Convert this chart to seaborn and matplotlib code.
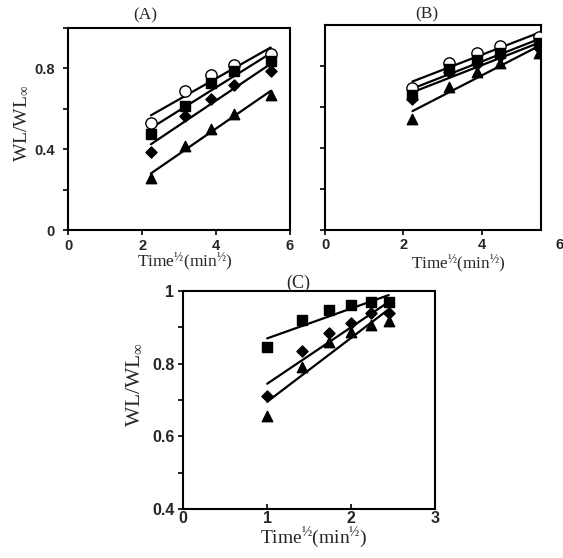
import numpy as np
import pandas as pd
import matplotlib
matplotlib.use("Agg")
import matplotlib.pyplot as plt
import seaborn as sns
from matplotlib.ticker import MultipleLocator

# ---------------- data ----------------
# x = Time^1/2 (min^1/2)
x_ab = [2.236, 3.162, 3.873, 4.472, 5.477]
x_c = [1.0, 1.414, 1.732, 2.0, 2.236, 2.449]

a_circle = [0.53, 0.69, 0.77, 0.815, 0.87]
a_square = [0.475, 0.615, 0.73, 0.79, 0.835]
a_diamond = [0.39, 0.565, 0.65, 0.72, 0.79]
a_triangle = [0.26, 0.415, 0.50, 0.575, 0.67]

b_circle = [0.695, 0.816, 0.865, 0.898, 0.94]
b_square = [0.66, 0.785, 0.83, 0.865, 0.91]
b_diamond = [0.64, 0.77, 0.81, 0.85, 0.89]
b_triangle = [0.54, 0.70, 0.77, 0.815, 0.865]

c_square = [0.846, 0.92, 0.946, 0.961, 0.968, 0.97]
c_diamond = [0.71, 0.834, 0.885, 0.91, 0.938, 0.94]
c_triangle = [0.657, 0.79, 0.86, 0.887, 0.906, 0.918]

panel_titles = ["(A)", "(B)", "(C)"]
ab_xticks = ["0", "2", "4", "6"]
a_yticks = ["0", "0.4", "0.8"]
c_xticks = ["0", "1", "2", "3"]
c_yticks = ["0.4", "0.6", "0.8", "1"]
x_label = r"Time$^{\mathregular{½}}$(min$^{\mathregular{½}}$)"
y_label = r"WL/WL$_{\mathregular{\infty}}$"

# ---------------- style ----------------
sns.set_style("ticks")
plt.rcParams["mathtext.fontset"] = "custom"
plt.rcParams["mathtext.rm"] = "Liberation Serif"
plt.rcParams["mathtext.it"] = "Liberation Serif:italic"
plt.rcParams["mathtext.bf"] = "Liberation Serif:bold"
plt.rcParams["font.family"] = ["Liberation Serif", "DejaVu Serif"]

marker_style = {
    "circle": dict(marker="o", facecolor="white", s=66),
    "square": dict(marker="s", facecolor="black", s=48),
    "diamond": dict(marker="D", facecolor="black", s=32),
    "triangle": dict(marker="^", facecolor="black", s=56),
}

def make_df(x, series):
    rows = []
    for name, ys in series.items():
        for xi, yi in zip(x, ys):
            rows.append((xi, yi, name))
    return pd.DataFrame(rows, columns=["x", "y", "series"])

df_a = make_df(x_ab, {"circle": a_circle, "square": a_square,
                      "diamond": a_diamond, "triangle": a_triangle})
df_b = make_df(x_ab, {"circle": b_circle, "square": b_square,
                      "diamond": b_diamond, "triangle": b_triangle})
df_c = make_df(x_c, {"square": c_square, "diamond": c_diamond,
                     "triangle": c_triangle})

W, H = 563, 558
fig = plt.figure(figsize=(W / 100, H / 100), dpi=100)

def ax_at(l, r, t, b):
    return fig.add_axes([l / W, 1 - b / H, (r - l) / W, (b - t) / H])

ax_a = ax_at(68.3, 290, 28, 230.5)
ax_b = ax_at(325, 541, 25, 230)
ax_c = ax_at(183.3, 435, 290.7, 509.3)

def draw(ax, df):
    for name, sub in df.groupby("series", sort=False):
        sns.regplot(data=sub, x="x", y="y", ax=ax, scatter=False, ci=None,
                    color="black", truncate=True,
                    line_kws=dict(lw=1.6, zorder=2))
    for name, sub in df.groupby("series", sort=False):
        st = marker_style[name]
        sns.scatterplot(data=sub, x="x", y="y", ax=ax, marker=st["marker"],
                        s=st["s"], facecolor=st["facecolor"],
                        edgecolor="black", linewidth=1.0, zorder=3,
                        legend=False)

def style_axes(ax, tick_fs, ypad, xpad, xdir="out"):
    for sp in ax.spines.values():
        sp.set_visible(True)
        sp.set_color("black")
        sp.set_linewidth(1.5)
    ax.tick_params(axis="both", which="both", color="black",
                   width=1.2, length=3.5)
    ax.tick_params(axis="y", which="both", direction="out", pad=ypad)
    ax.tick_params(axis="x", which="both", direction=xdir, pad=xpad)
    for lab in ax.get_xticklabels() + ax.get_yticklabels():
        lab.set_fontfamily("Liberation Sans")
        lab.set_fontweight("bold")
        lab.set_fontsize(tick_fs)

draw(ax_a, df_a)
draw(ax_b, df_b)
draw(ax_c, df_c)

# Panel A
ax_a.set_xlim(0, 6)
ax_a.set_ylim(0, 1.0)
ax_a.set_xticks([0, 2, 4, 6])
ax_a.set_xticklabels(ab_xticks)
ax_a.yaxis.set_minor_locator(MultipleLocator(0.2))
ax_a.set_yticks([0, 0.4, 0.8])
ax_a.set_yticklabels(a_yticks)

# Panel B (frame ends just past the last point; the "6" label sits outside)
ax_b.set_xlim(0, 5.52)
ax_b.set_ylim(0, 1.0)
ax_b.set_xticks([0, 2, 4])
ax_b.set_xticklabels(ab_xticks[:3])
ax_b.set_yticks([0, 0.2, 0.4, 0.6, 0.8])
ax_b.set_yticklabels([])

# Panel C
ax_c.set_xlim(0, 3)
ax_c.set_ylim(0.4, 1.0)
ax_c.set_xticks([0, 1, 2, 3])
ax_c.set_xticklabels(c_xticks)
ax_c.set_yticks([0.4, 0.6, 0.8, 1.0])
ax_c.set_yticklabels(c_yticks)
ax_c.yaxis.set_minor_locator(MultipleLocator(0.1))

style_axes(ax_a, 10.5, 6, 2.5)
style_axes(ax_b, 10.5, 6, 2.5)
style_axes(ax_c, 11.5, 3, 1.0, xdir="in")

ax_b.annotate(ab_xticks[3], xy=(6, 0), xycoords=("data", "axes fraction"),
              xytext=(0, -6.0), textcoords="offset points", ha="center",
              va="top", fontfamily="Liberation Sans", fontweight="bold",
              fontsize=10.5, annotation_clip=False)

def place_labels(ax, xfs, xpos, yfs=None, ypos=None):
    ax.set_xlabel(x_label, fontsize=xfs)
    ax.xaxis.set_label_coords(*xpos)
    ax.xaxis.label.set_va("center")
    if yfs is None:
        ax.set_ylabel("")
    else:
        ax.set_ylabel(y_label, fontsize=yfs)
        ax.yaxis.set_label_coords(*ypos)
        ax.yaxis.label.set_va("center")

place_labels(ax_a, 12.5, (0.526, -0.16), 14, (-0.209, 0.53))
place_labels(ax_b, 12.3, (0.616, -0.167))
place_labels(ax_c, 14.0, (0.52, -0.133), 15.5, (-0.192, 0.569))

for ax, title, pos, fs in [(ax_a, panel_titles[0], (0.346, 1.064), 12.5),
                           (ax_b, panel_titles[1], (0.472, 1.054), 12.5),
                           (ax_c, panel_titles[2], (0.456, 1.035), 13)]:
    ax.set_title("")
    ax.text(pos[0], pos[1], title, transform=ax.transAxes, ha="center",
            va="center", fontsize=fs)

fig.savefig("out.png", dpi=100, facecolor="white")
